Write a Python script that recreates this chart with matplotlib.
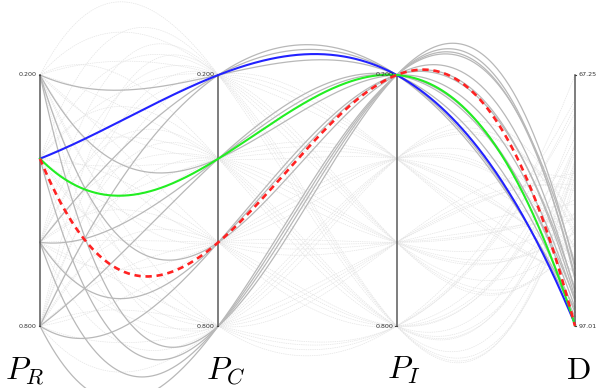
import matplotlib
matplotlib.use('Agg')
import matplotlib.pyplot as plt
import numpy as np

# parameter levels shared by the three probability axes
levels = [0.2, 0.4, 0.6, 0.8]
axis_names = [r'$P_R$', r'$P_C$', r'$P_I$', r'$\mathrm{D}$']
d_min, d_max = 67.25, 97.01

# D for every (P_R row, P_C column) combination, one table per P_I level
d_pi02 = [[95.4, 94.1, 93.0, 90.2],
          [96.8, 96.9, 97.01, 91.5],
          [95.9, 94.8, 93.6, 91.0],
          [95.0, 93.8, 92.6, 89.7]]
d_pi04 = [[90.6, 89.2, 87.9, 85.3],
          [91.8, 90.9, 89.6, 86.4],
          [91.2, 90.1, 88.7, 85.9],
          [90.3, 88.8, 87.5, 84.6]]
d_pi06 = [[85.7, 84.1, 82.6, 79.8],
          [87.2, 86.0, 84.4, 81.0],
          [86.5, 85.1, 83.7, 80.3],
          [85.3, 83.6, 82.0, 78.9]]
d_pi08 = [[78.4, 76.5, 74.6, 70.2],
          [80.1, 78.3, 76.2, 71.8],
          [79.2, 77.4, 75.5, 70.9],
          [77.6, 75.4, 73.1, 67.25]]
d_tables = [d_pi02, d_pi04, d_pi06, d_pi08]

# highlighted runs: (P_R, P_C, P_I)
best_runs = [(0.4, 0.2, 0.2), (0.4, 0.4, 0.2), (0.4, 0.6, 0.2)]
best_colors = ['#2222ff', '#22ee22', '#ff2222']
best_styles = ['-', '-', (0, (2.4, 1.8))]


def normalize(p_r, p_c, p_i, d):
    ys = [(v - levels[0]) / (levels[-1] - levels[0]) for v in (p_r, p_c, p_i)]
    ys.append((d - d_min) / (d_max - d_min))
    return ys


def curve(ys):
    # cubic through the four axis crossings
    coef = np.polyfit([0, 1, 2, 3], ys, 3)
    t = np.linspace(0, 3, 400)
    return t, np.polyval(coef, t)


fig = plt.figure(figsize=(5.98, 3.88), dpi=100)
ax = fig.add_axes([0, 0, 1, 1])
ax.set_facecolor('#fbfbfb')
ax.set_xlim(-40 / 178.33, 558 / 178.33)
ax.set_ylim(313 / 251, -75 / 251)
ax.axis('off')
ax.axhspan(-75 / 251, -68 / 251, color='white', zorder=0)
plt.rcParams['mathtext.fontset'] = 'cm'

for k, p_i in enumerate(levels):
    for i, p_r in enumerate(levels):
        for j, p_c in enumerate(levels):
            if (p_r, p_c, p_i) in best_runs:
                continue
            t, y = curve(normalize(p_r, p_c, p_i, d_tables[k][i][j]))
            if p_i == 0.2:
                ax.plot(t, y, color='#b8b8b8', lw=0.9, zorder=2)
            else:
                ax.plot(t, y, color='#e4e4e4', lw=0.5, ls=(0, (2, 1.2)), zorder=1)

for run, col, ls in zip(best_runs, best_colors, best_styles):
    p_r, p_c, p_i = run
    d = d_tables[levels.index(p_i)][levels.index(p_r)][levels.index(p_c)]
    t, y = curve(normalize(p_r, p_c, p_i, d))
    ax.plot(t, y, color=col, lw=1.5 if ls == '-' else 1.9, ls=ls, zorder=4)

# vertical axes with end labels
for n in range(4):
    ax.plot([n, n], [0, 1], color='#5a5a5a', lw=1.1, zorder=3)
    if n < 3:
        top, bottom, side = '%.3f' % levels[0], '%.3f' % levels[-1], -1
    else:
        top, bottom, side = '%.2f' % d_min, '%.2f' % d_max, 1
    for yv, txt in ((0, top), (1, bottom)):
        ax.plot([n, n + side * 0.008], [yv, yv], color='#444444', lw=0.8, zorder=3)
        ax.annotate(txt, (n, yv), xytext=(side * 2.5, 0), textcoords='offset points',
                    ha='right' if side < 0 else 'left', va='center',
                    fontsize=4.6, color='#333333', zorder=5)

label_x = [-0.085, 1.043, 2.041, 3.017]
for name, lx in zip(axis_names, label_x):
    ax.text(lx, 1.21, name, ha='center', va='baseline', fontsize=23, color='black')

fig.savefig('out.png', dpi=100)
